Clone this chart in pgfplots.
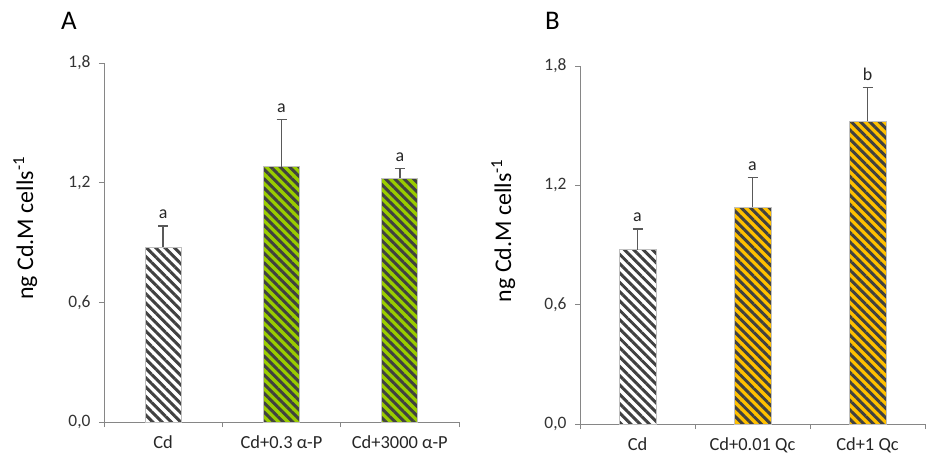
\documentclass[border=0pt]{standalone}
\usepackage{fontspec}
\setmainfont{Carlito}
\usepackage{pgfplots}
\pgfplotsset{compat=1.18}
\usetikzlibrary{patterns.meta}
\definecolor{barGreen}{RGB}{153,204,0}
\definecolor{barOrange}{RGB}{255,192,0}
\definecolor{stripe}{RGB}{64,64,64}
\definecolor{axisgray}{RGB}{134,134,134}
\definecolor{edgegray}{RGB}{191,191,191}
\definecolor{errgray}{RGB}{89,89,89}
\tikzset{sig/.style={anchor=base, inner sep=0pt, yshift=7bp, font=\fontsize{18}{21}\selectfont, text=black!85}}
\pgfplotsset{
 panel/.style={
  scale only axis,
  axis x line*=bottom, axis y line*=left,
  axis line style={axisgray, line width=1bp, -},
  xmin=-0.5,xmax=2.5,ymin=0,ymax=1.8,
  ytick={0,0.6,1.2,1.8},
  xtick={-0.5,0.5,1.5,2.5},
  x tick label as interval,
  tick align=outside,
  major tick length=5bp,
  tick style={axisgray, line width=1bp},
  ticklabel style={font=\fontsize{17.5}{20}\selectfont, text=black!80},
  yticklabel style={xshift=-5bp, /pgf/number format/use comma, /pgf/number format/fixed, /pgf/number format/fixed zerofill, /pgf/number format/precision=1, /pgf/number format/assume math mode=true},
  xticklabel style={font=\fontsize{18.5}{21}\selectfont, text=black!85, yshift=-5bp},
  ylabel={ng Cd.M cells\textsuperscript{-1}},
  ylabel style={font=\fontsize{24}{28}\selectfont, at={(axis description cs:-0.222,0.54)}, anchor=center},
  bar width=36bp,
  ybar, bar shift=0pt,
  clip=false,
 },
 striped/.style={fill=#1, draw=edgegray, line width=1bp, postaction={pattern={Lines[angle=-45,distance=6.6bp,line width=3bp]}, pattern color=stripe}},
 errs/.style={error bars/.cd, y dir=plus, y explicit, error bar style={errgray, line width=1.4bp}, error mark options={rotate=90, mark size=5bp, errgray, line width=1.4bp}},
}
\begin{document}
\begin{tikzpicture}
\useasboundingbox (0,0) rectangle (932bp,-456bp);
\node[anchor=base west, inner sep=0pt, font=\fontsize{27}{32}\selectfont] at (61bp,-29.5bp) {A};
\node[anchor=base west, inner sep=0pt, font=\fontsize{27}{32}\selectfont] at (545bp,-29.5bp) {B};
\begin{axis}[panel, at={(104bp,-422bp)}, anchor=south west, width=355bp, height=359bp,
  xticklabels={Cd, Cd+0.3 α-P, Cd+3000 α-P, {}}]
\addplot[striped=white, errs] coordinates {(0,0.877) +- (0,0.106)};
\addplot[striped=barGreen, errs] coordinates {(1,1.279) +- (0,0.237)};
\addplot[striped=barGreen, errs] coordinates {(2,1.222) +- (0,0.050)};
\node[sig] at (axis cs:0,0.983) {a};
\node[sig] at (axis cs:1,1.516) {a};
\node[sig] at (axis cs:2,1.272) {a};
\end{axis}
\begin{axis}[panel, at={(580bp,-424bp)}, anchor=south west, width=345bp, height=358bp,
  xticklabels={Cd, Cd+0.01 Qc, Cd+1 Qc, {}}, bar width=37bp]
\addplot[striped=white, errs] coordinates {(0,0.876) +- (0,0.105)};
\addplot[striped=barOrange, errs] coordinates {(1,1.089) +- (0,0.150)};
\addplot[striped=barOrange, errs] coordinates {(2,1.521) +- (0,0.171)};
\node[sig] at (axis cs:0,0.981) {a};
\node[sig] at (axis cs:1,1.239) {a};
\node[sig] at (axis cs:2,1.692) {b};
\end{axis}
\end{tikzpicture}
\end{document}
